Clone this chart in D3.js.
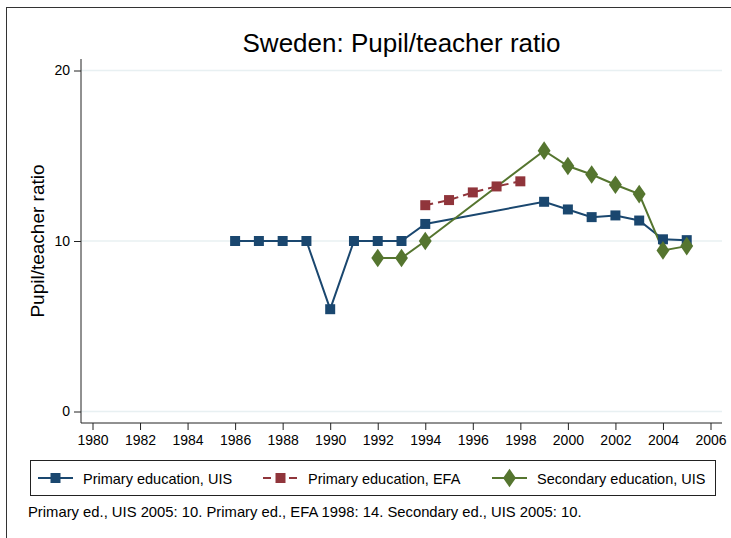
<!DOCTYPE html>
<html>
<head>
<meta charset="utf-8">
<script src="https://cdn.jsdelivr.net/npm/d3@7"></script>
<style>
  body { margin: 0; background: #fff; }
  svg { font-family: "Liberation Sans", Arial, sans-serif; }
</style>
</head>
<body>
<div id="chart"></div>
<script>
 // values
 const uisYears = [1986, 1987, 1988, 1989, 1990, 1991, 1992, 1993, 1994, 1999, 2000, 2001, 2002, 2003, 2004, 2005];
 const uisPrimary = [10, 10, 10, 10, 6, 10, 10, 10, 11, 12.3, 11.85, 11.4, 11.5, 11.2, 10.1, 10.05];

 const efaYears = [1994, 1995, 1996, 1997, 1998];
 const efaPrimary = [12.1, 12.4, 12.85, 13.2, 13.5];

 const secYears = [1992, 1993, 1994, 1999, 2000, 2001, 2002, 2003, 2004, 2005];
 const uisSecondary = [9, 9, 10, 15.3, 14.4, 13.9, 13.3, 12.75, 9.45, 9.7];

 const xTicks = [1980, 1982, 1984, 1986, 1988, 1990, 1992, 1994, 1996, 1998, 2000, 2002, 2004, 2006];
 const yTicks = [0, 10, 20];

 const seriesNames = ["Primary education, UIS", "Primary education, EFA", "Secondary education, UIS"];
 const colors = ["#1a476f", "#90353b", "#55752f"];

 const width = 731;
 const height = 538;

 var svg = d3.select("#chart")
   .append("svg")
   .attr("width", width)
   .attr("height", height);

 // outer frame (only top and left show in the window)
 svg.append("rect")
   .attr("x", 6.5).attr("y", 7.5)
   .attr("width", 740).attr("height", 560)
   .attr("fill", "none")
   .attr("stroke", "#333")
   .attr("stroke-width", 1);

 var plot = { left: 81, right: 722, top: 59, bottom: 423 };

 var x = d3.scaleLinear()
   .domain([1980, 2006])
   .range([92.5, 710.5]);

 var y = d3.scaleLinear()
   .domain([0, 20])
   .range([411.5, 70.5]);

 // grid
 svg.append("g")
   .selectAll("line")
   .data(yTicks)
   .enter()
   .append("line")
   .attr("x1", plot.left).attr("x2", plot.right)
   .attr("y1", d => y(d)).attr("y2", d => y(d))
   .attr("stroke", "#e8f0f2")
   .attr("stroke-width", 1.5);

 // axes
 var xAxis = svg.append("g")
   .attr("transform", "translate(0," + plot.bottom + ")")
   .call(d3.axisBottom(x).tickValues(xTicks).tickFormat(d3.format("d")).tickSize(7).tickPadding(5).tickSizeOuter(0));
 xAxis.select(".domain").attr("d", "M" + plot.left + ",0H" + plot.right);

 var yAxis = svg.append("g")
   .attr("transform", "translate(" + plot.left + ",0)")
   .call(d3.axisLeft(y).tickValues(yTicks).tickSize(7).tickPadding(4).tickSizeOuter(0));
 yAxis.select(".domain").attr("d", "M0," + plot.top + "V" + plot.bottom);

 svg.selectAll(".tick text")
   .attr("font-size", 14)
   .attr("fill", "#000")
   .attr("font-family", "Liberation Sans, Arial, sans-serif");
 svg.selectAll(".domain, .tick line").attr("stroke", "#222");

 // titles
 svg.append("text")
   .attr("x", (plot.left + plot.right) / 2)
   .attr("y", 52)
   .attr("text-anchor", "middle")
   .attr("font-size", 26)
   .text("Sweden: Pupil/teacher ratio");

 svg.append("text")
   .attr("transform", "translate(44," + ((plot.top + plot.bottom) / 2) + ") rotate(-90)")
   .attr("text-anchor", "middle")
   .attr("font-size", 19)
   .text("Pupil/teacher ratio");

 var line = d3.line()
   .x(d => x(d[0]))
   .y(d => y(d[1]));

 function pairs(xs, ys) {
   return xs.map((v, i) => [v, ys[i]]);
 }

 var series = [
   { data: pairs(uisYears, uisPrimary), color: colors[0], dash: null, shape: d3.symbolSquare, size: 100 },
   { data: pairs(efaYears, efaPrimary), color: colors[1], dash: "8,5", shape: d3.symbolSquare, size: 100 },
   { data: pairs(secYears, uisSecondary), color: colors[2], dash: null, shape: d3.symbolDiamond, size: 100 }
 ];

 series.forEach(s => {
   svg.append("path")
     .datum(s.data)
     .attr("d", line)
     .attr("fill", "none")
     .attr("stroke", s.color)
     .attr("stroke-width", 2)
     .attr("stroke-dasharray", s.dash);
 });

 series.forEach(s => {
   svg.append("g")
     .selectAll("path")
     .data(s.data)
     .enter()
     .append("path")
     .attr("transform", d => "translate(" + x(d[0]) + "," + y(d[1]) + ")" + (s.shape === d3.symbolDiamond ? " scale(1.2,1)" : ""))
     .attr("d", d3.symbol().type(s.shape).size(s.size))
     .attr("fill", s.color);
 });

 // legend
 svg.append("rect")
   .attr("x", 30.5).attr("y", 460.5)
   .attr("width", 685).attr("height", 35)
   .attr("fill", "#fff")
   .attr("stroke", "#222");

 var legendX = [38, 263, 492];
 var leg = svg.append("g")
   .selectAll("g")
   .data(series)
   .enter()
   .append("g")
   .attr("transform", (d, i) => "translate(" + legendX[i] + ",478)");

 leg.append("line")
   .attr("x1", 0).attr("x2", 35)
   .attr("stroke", d => d.color)
   .attr("stroke-width", 2)
   .attr("stroke-dasharray", d => d.dash);

 leg.append("path")
   .attr("transform", d => "translate(17.5,0)" + (d.shape === d3.symbolDiamond ? " scale(1.2,1)" : ""))
   .attr("d", d => d3.symbol().type(d.shape).size(d.size)())
   .attr("fill", d => d.color);

 leg.append("text")
   .attr("x", 45)
   .attr("y", 5.5)
   .attr("font-size", 14.5)
   .text((d, i) => seriesNames[i]);

 svg.append("text")
   .attr("x", 28)
   .attr("y", 517)
   .attr("font-size", 14.8)
   .text("Primary ed., UIS 2005: 10. Primary ed., EFA 1998: 14. Secondary ed., UIS 2005: 10.");
</script>
</body>
</html>
